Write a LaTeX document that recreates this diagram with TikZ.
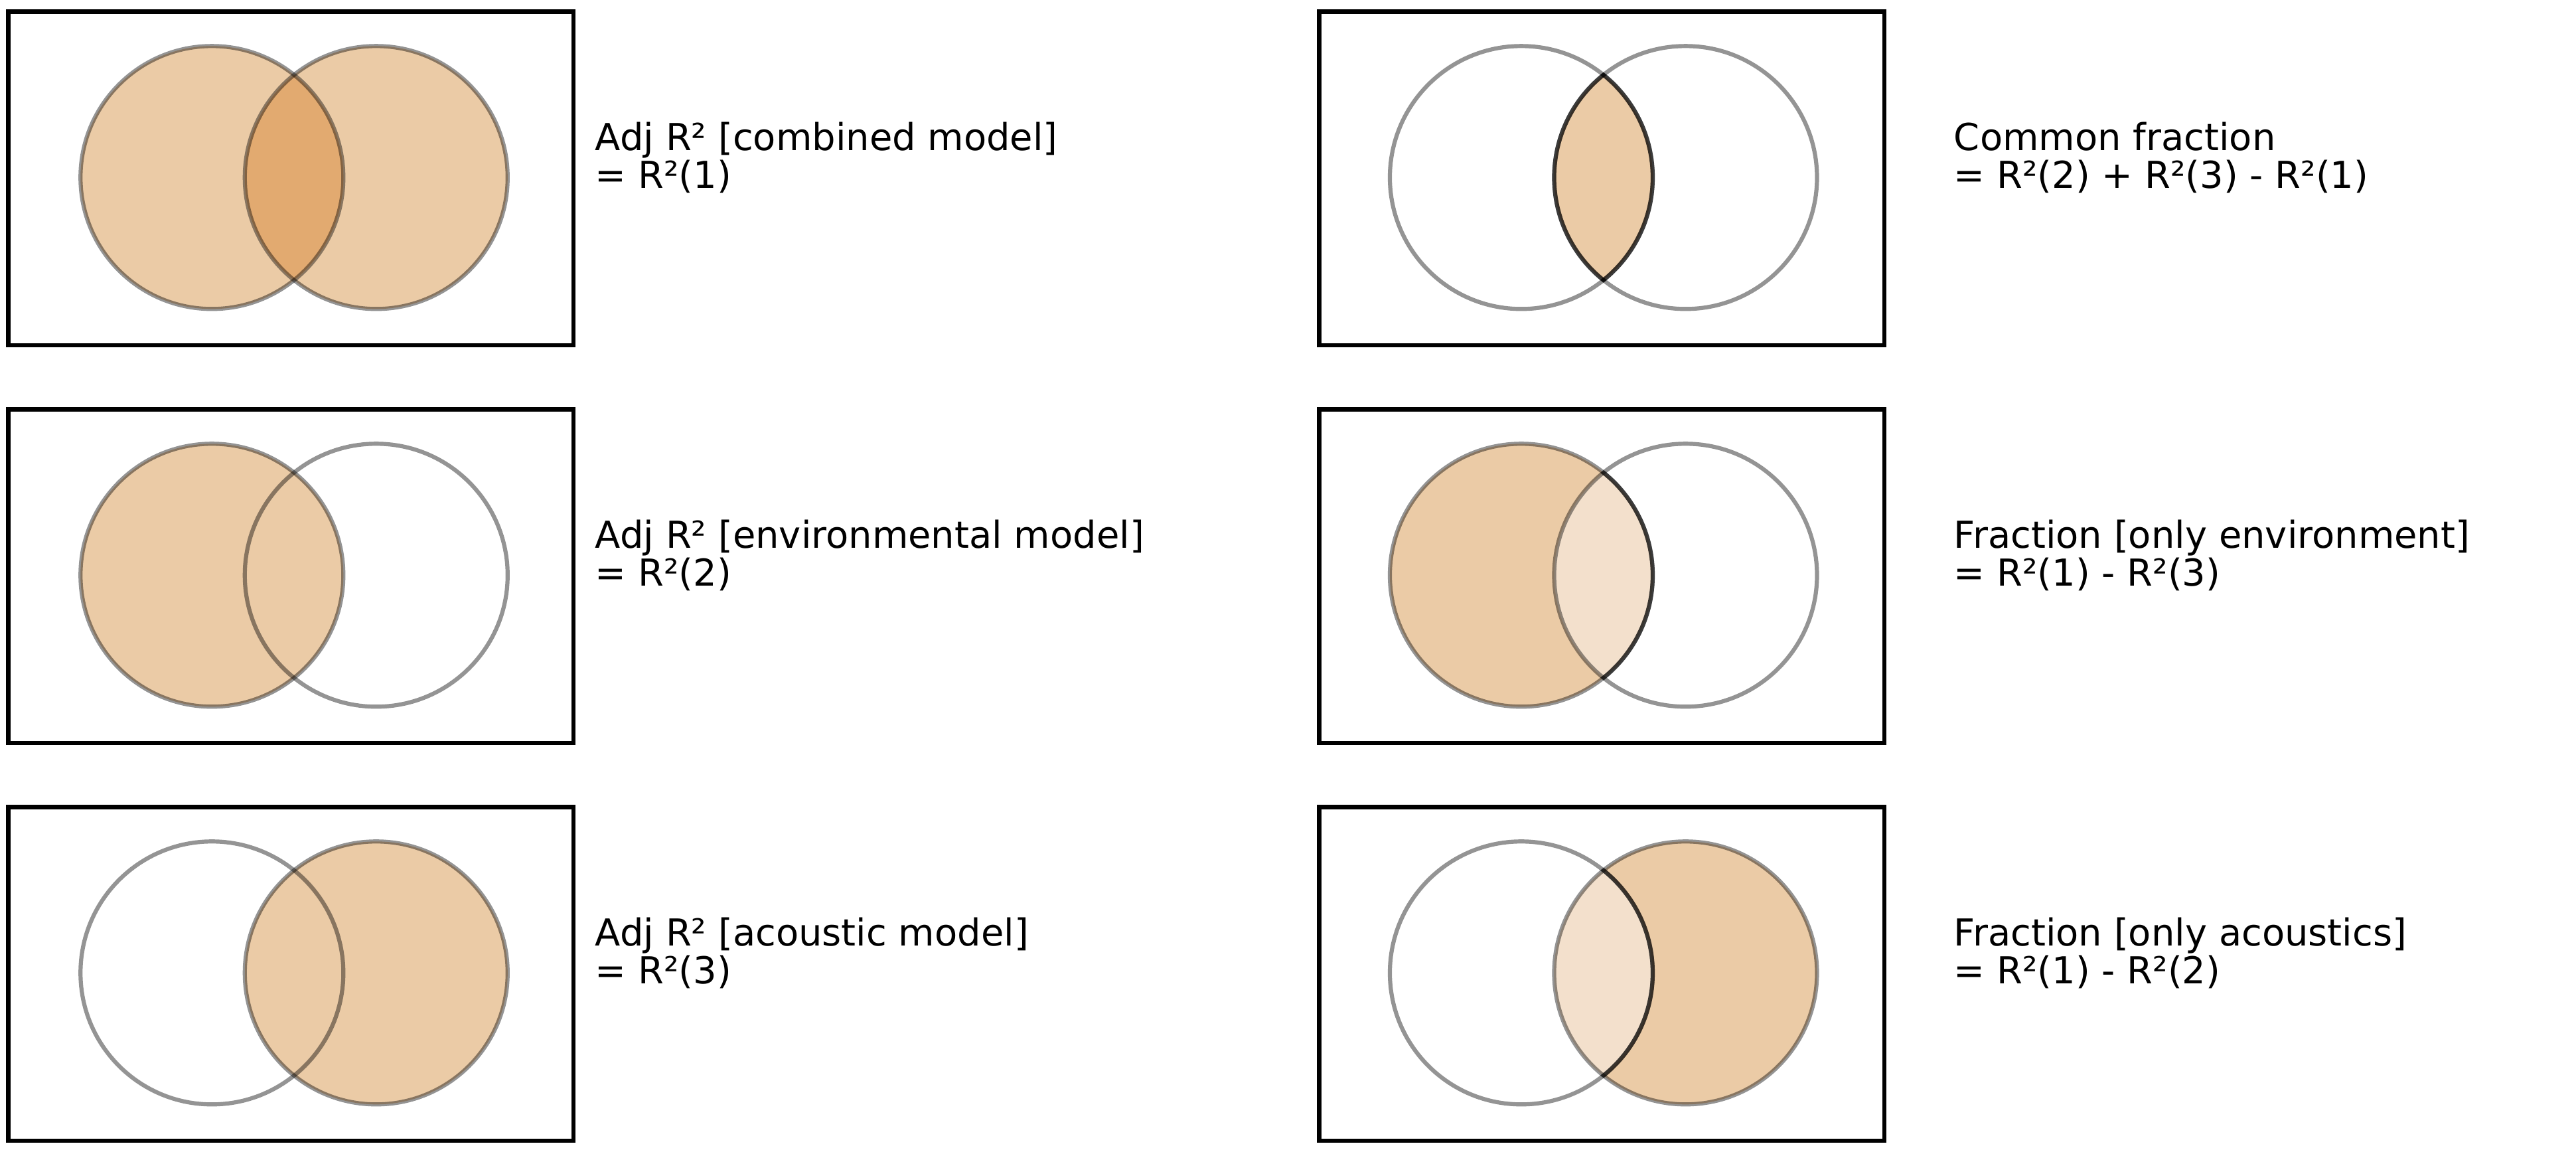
\documentclass[tikz,border=0pt]{standalone}
\usepackage{fontspec}
\setmainfont{DejaVu Sans}
\definecolor{tan}{RGB}{235,203,166}
\definecolor{tanlight}{RGB}{243,224,204}
\definecolor{tandark}{RGB}{226,170,112}
\tikzset{
  box/.style={draw=black,line width=1.3pt,minimum width=172pt,minimum height=101.5pt,inner sep=0pt},
  ring/.style={draw=black,draw opacity=0.42,line width=1.25pt},
  darkring/.style={draw=black,draw opacity=0.6,line width=1.25pt},
  lbl/.style={anchor=west,align=left,inner sep=0pt,font=\fontsize{11.3}{11.5}\selectfont},
}
\begin{document}
\begin{tikzpicture}[x=0.5pt,y=-0.5pt]
\useasboundingbox (0,0) rectangle (1568,702);
% boxes
\node[box] (b1) at (177,108.5) {};
\node[box] (b2) at (177,350.5) {};
\node[box] (b3) at (177,592.5) {};
\node[box] (b4) at (975,108.5) {};
\node[box] (b5) at (975,350.5) {};
\node[box] (b6) at (975,592.5) {};
% row 1 left: combined
\fill[tan] (129,108) circle (80);
\fill[tan] (229,108) circle (80);
\begin{scope}\clip (129,108) circle (80); \fill[tandark] (229,108) circle (80);\end{scope}
\draw[ring] (129,108) circle (80); \draw[ring] (229,108) circle (80);
% row 2 left: environmental
\fill[tan] (129,350) circle (80);
\draw[ring] (129,350) circle (80); \draw[ring] (229,350) circle (80);
% row 3 left: acoustic
\fill[tan] (229,592) circle (80);
\draw[ring] (129,592) circle (80); \draw[ring] (229,592) circle (80);
% row 1 right: common
\begin{scope}\clip (926,108) circle (80); \fill[tan] (1026,108) circle (80);\end{scope}
\draw[ring] (926,108) circle (80); \draw[ring] (1026,108) circle (80);
\begin{scope}\clip (926,108) circle (81); \draw[darkring] (1026,108) circle (80);\end{scope}
\begin{scope}\clip (1026,108) circle (81); \draw[darkring] (926,108) circle (80);\end{scope}
% row 2 right: only environment
\fill[tan] (926,350) circle (80);
\begin{scope}\clip (926,350) circle (80); \fill[tanlight] (1026,350) circle (80);\end{scope}
\draw[ring] (926,350) circle (80); \draw[ring] (1026,350) circle (80);
\begin{scope}\clip (1026,350) circle (81); \draw[darkring] (926,350) circle (80);\end{scope}
% row 3 right: only acoustics
\fill[tan] (1026,592) circle (80);
\begin{scope}\clip (1026,592) circle (80); \fill[tanlight] (926,592) circle (80);\end{scope}
\draw[ring] (926,592) circle (80); \draw[ring] (1026,592) circle (80);
\begin{scope}\clip (1026,592) circle (81); \draw[darkring] (926,592) circle (80);\end{scope}
% labels
\node[lbl] (t1) at (362,96) {Adj R² [combined model]\\= R²(1)};
\node[lbl] (t2) at (362,338) {Adj R² [environmental model]\\= R²(2)};
\node[lbl] (t3) at (362,580) {Adj R² [acoustic model]\\= R²(3)};
\node[lbl] (t4) at (1189,96) {Common fraction\\= R²(2) + R²(3) - R²(1)};
\node[lbl] (t5) at (1189,338) {Fraction [only environment]\\= R²(1) - R²(3)};
\node[lbl] (t6) at (1189,580) {Fraction [only acoustics]\\= R²(1) - R²(2)};
\end{tikzpicture}
\end{document}
